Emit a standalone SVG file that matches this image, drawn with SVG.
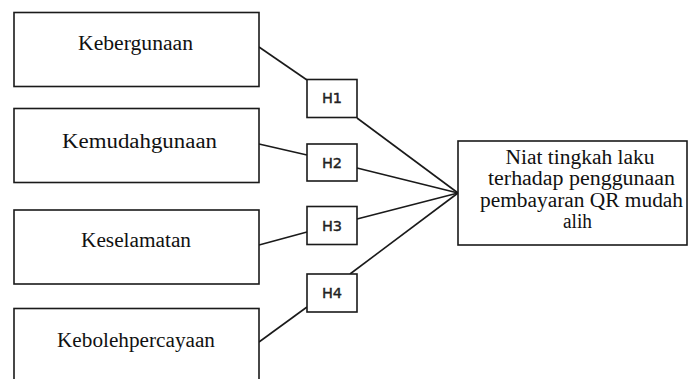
<svg xmlns="http://www.w3.org/2000/svg" width="692" height="379" viewBox="0 0 692 379">
<style>
.box{fill:#fff;stroke:#1a1a1a;stroke-width:1.6}
.t{font-family:"Liberation Serif","Times New Roman",serif;font-size:20px;fill:#111}
.h{font-family:"DejaVu Sans",Verdana,sans-serif;font-size:14.5px;fill:#222;stroke:#222;stroke-width:0.4;text-anchor:middle}
.c line{stroke:#1a1a1a;stroke-width:1.6}
</style>
<rect width="692" height="379" fill="#fff"/>
<g class="c" id="connectors">
<line x1="259" y1="47" x2="307" y2="80"/>
<line x1="357" y1="118" x2="458" y2="193"/>
<line x1="259" y1="144" x2="307" y2="155"/>
<line x1="357" y1="168" x2="458" y2="193"/>
<line x1="259" y1="245" x2="307" y2="232"/>
<line x1="357" y1="219" x2="458" y2="193"/>
<line x1="259" y1="342" x2="307" y2="307"/>
<line x1="350" y1="274" x2="458" y2="193"/>
</g>
<g id="kebergunaan"><rect class="box" x="14" y="12.5" width="245" height="74"/><text class="t" x="78" y="50" textLength="115" lengthAdjust="spacingAndGlyphs">Kebergunaan</text></g>
<g id="kemudahgunaan"><rect class="box" x="14" y="108.5" width="245" height="74"/><text class="t" x="62" y="148" textLength="155" lengthAdjust="spacingAndGlyphs">Kemudahgunaan</text></g>
<g id="keselamatan"><rect class="box" x="14" y="210" width="245" height="74"/><text class="t" x="81" y="247" textLength="110" lengthAdjust="spacingAndGlyphs">Keselamatan</text></g>
<g id="kebolehpercayaan"><rect class="box" x="14" y="308.5" width="245" height="80"/><text class="t" x="57" y="346.5" textLength="158" lengthAdjust="spacingAndGlyphs">Kebolehpercayaan</text></g>
<g id="h1"><rect class="box" x="307" y="79.5" width="50" height="38"/><text class="h" x="332" y="103">H1</text></g>
<g id="h2"><rect class="box" x="307" y="144" width="50" height="37"/><text class="h" x="332" y="167.5">H2</text></g>
<g id="h3"><rect class="box" x="307" y="206.5" width="50" height="38"/><text class="h" x="332" y="230.5">H3</text></g>
<g id="h4"><rect class="box" x="307" y="274" width="50" height="38"/><text class="h" x="332" y="298">H4</text></g>
<g id="niat"><rect class="box" x="458" y="141" width="229" height="104"/>
<text class="t" x="505.5" y="164" textLength="149" lengthAdjust="spacingAndGlyphs">Niat tingkah laku</text>
<text class="t" x="488" y="185" textLength="187" lengthAdjust="spacingAndGlyphs">terhadap penggunaan</text>
<text class="t" x="480" y="206.5" textLength="203" lengthAdjust="spacingAndGlyphs">pembayaran QR mudah</text>
<text class="t" x="563" y="227.5" textLength="29" lengthAdjust="spacingAndGlyphs">alih</text>
</g>
</svg>
